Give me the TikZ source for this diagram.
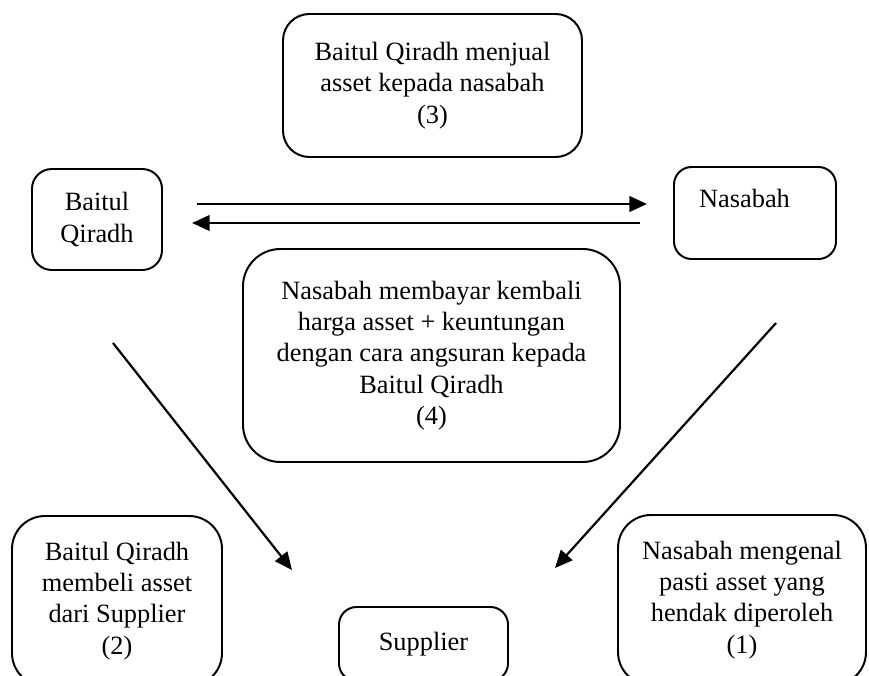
\documentclass[tikz,border=0pt]{standalone}
\usepackage{fontspec}
\setmainfont{Liberation Serif}
\usetikzlibrary{positioning,arrows.meta}

\begin{document}
\begin{tikzpicture}[x=0.455pt,y=-0.455pt,
	font=\fontsize{12}{14.2}\selectfont,
	kotak/.style={draw,line width=0.9pt,align=center,inner sep=0pt},
	ukuran/.style 2 args={minimum width=#1*0.455pt,minimum height=#2*0.455pt},
	panah/.style={line width=1.2pt,-{Triangle[length=8pt,width=7pt]}}]
	\useasboundingbox (0,0) rectangle (869,675);
	\clip (0,0) rectangle (869,675);
	% kotak-kotak
	\node[kotak,ukuran={299}{143},rounded corners=12pt] (jual) at (432.5,85.5)
		{Baitul Qiradh menjual\\asset kepada nasabah\\(3)};
	\node[kotak,ukuran={130}{101},rounded corners=9pt] (bq) at (97,219.5)
		{Baitul\\Qiradh};
	\node[kotak,ukuran={162}{92},rounded corners=8pt] (nsb) at (755,213) {};
	\node[anchor=base,inner sep=0pt] (nsbteks) at (744.5,207) {Nasabah};
	\node[kotak,ukuran={377}{213},rounded corners=17pt] (bayar) at (431.5,355.5)
		{Nasabah membayar kembali\\harga asset + keuntungan\\dengan cara angsuran kepada\\Baitul Qiradh\\(4)};
	\node[kotak,ukuran={210}{170},rounded corners=15pt] (beli) at (117,601)
		{Baitul Qiradh\\membeli asset\\dari Supplier\\(2)};
	\node[kotak,ukuran={169}{74},rounded corners=8pt] (sup) at (423.5,644)
		{Supplier};
	\node[kotak,ukuran={248}{170},rounded corners=15pt] (kenal) at (742,600)
		{Nasabah mengenal\\pasti asset yang\\hendak diperoleh\\(1)};
	% ujung panah
	\coordinate (a1) at (197,204);
	\coordinate (a2) at (647,204);
	\coordinate (b1) at (640,223);
	\coordinate (b2) at (192,223);
	\coordinate (c1) at (113,343);
	\coordinate (c2) at (292,570);
	\coordinate (d1) at (776,323);
	\coordinate (d2) at (555,568);
	\draw[panah] (a1) -- (a2);
	\draw[panah] (b1) -- (b2);
	\draw[panah,line width=1pt] (c1) -- (c2);
	\draw[panah,line width=1pt] (d1) -- (d2);
\end{tikzpicture}
\end{document}
